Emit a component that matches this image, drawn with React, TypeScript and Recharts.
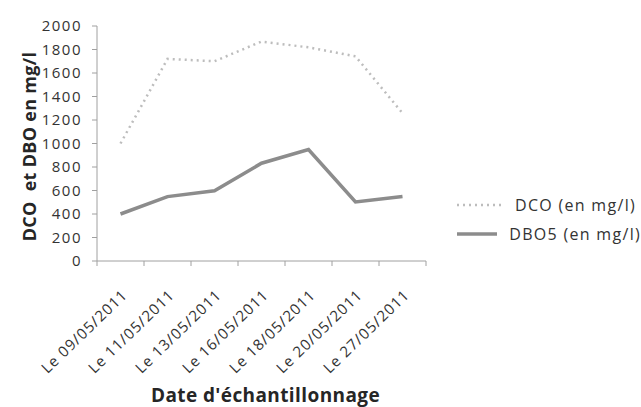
import { LineChart, Line, XAxis, YAxis, Legend } from 'recharts'

const dates = [
  'Le 09/05/2011',
  'Le 11/05/2011',
  'Le 13/05/2011',
  'Le 16/05/2011',
  'Le 18/05/2011',
  'Le 20/05/2011',
  'Le 27/05/2011',
]
const dco = [1000, 1720, 1700, 1868, 1818, 1742, 1258]
const dbo5 = [400, 548, 598, 832, 948, 502, 548]
const yTicks = [0, 200, 400, 600, 800, 1000, 1200, 1400, 1600, 1800, 2000]
const xBounds = dates.map((_, i) => i).concat(dates.length)

const font = '"Open Sans", sans-serif'
const textColor = '#333333'
const titleColor = '#262626'
const axisColor = '#a0a0a0'

const data = dates.map((date, i) => ({ x: i + 0.5, date, dco: dco[i], dbo5: dbo5[i] }))

const series = [
  { key: 'dco', name: 'DCO (en mg/l)', color: '#bdbdbd', width: 2.5, dash: '2 4' },
  { key: 'dbo5', name: 'DBO5 (en mg/l)', color: '#8c8c8c', width: 3.5, dash: undefined },
]

function DateTick(props: any) {
  const { x, y, width, payload } = props
  const i = Math.round(payload.value)
  if (i >= dates.length) return null
  const cx = x + width / dates.length / 2 + 8
  const cy = y + 28
  return (
    <text
      x={cx}
      y={cy}
      transform={`rotate(-44 ${cx} ${cy})`}
      textAnchor="end"
      fontFamily={font}
      fontSize={15}
      letterSpacing={1}
      fill={textColor}
    >
      {dates[i]}
    </text>
  )
}

function YTitle(props: any) {
  const { viewBox } = props
  const cx = viewBox.x + 19
  const cy = viewBox.y + viewBox.height / 2 + 3
  return (
    <text
      x={cx}
      y={cy}
      transform={`rotate(-90 ${cx} ${cy})`}
      textAnchor="middle"
      dominantBaseline="central"
      fontFamily={font}
      fontSize={18}
      fontWeight={700}
      letterSpacing={0.3}
      fill={titleColor}
      style={{ whiteSpace: 'pre' }}
    >
      {'DCO  et DBO en mg/l'}
    </text>
  )
}

function LegendBox() {
  return (
    <div style={{ fontFamily: font, fontSize: 16, letterSpacing: 1.3, color: textColor, whiteSpace: 'nowrap' }}>
      {series.map(s => (
        <div key={s.key} style={{ display: 'flex', alignItems: 'center', height: 29 }}>
          <svg width={46} height={6}>
            <line x1={0} y1={3} x2={46} y2={3} stroke={s.color} strokeWidth={s.width} strokeDasharray={s.dash} />
          </svg>
          <span style={{ marginLeft: 12 }}>{s.name}</span>
        </div>
      ))}
    </div>
  )
}

export default function App() {
  return (
    <div style={{ position: 'absolute', left: 0, top: 0, background: '#fff' }}>
      <LineChart width={641} height={407} data={data} margin={{ top: 26, right: 215, bottom: 0, left: 10 }}>
        <XAxis
          dataKey="x"
          type="number"
          domain={[0, dates.length]}
          ticks={xBounds}
          interval={0}
          height={146}
          tick={<DateTick />}
          tickSize={5}
          tickLine={{ stroke: axisColor }}
          axisLine={{ stroke: axisColor }}
          label={{
            value: "Date d'échantillonnage",
            position: 'insideBottom',
            offset: 5,
            dx: 4,
            style: { fontFamily: font, fontSize: 19, fontWeight: 700, letterSpacing: 0.4, fill: titleColor },
          }}
        />
        <YAxis
          domain={[0, 2000]}
          ticks={yTicks}
          interval={0}
          width={87}
          tickSize={5}
          tickMargin={10}
          tick={{ fontFamily: font, fontSize: 15, letterSpacing: 1.5, fill: textColor }}
          tickLine={{ stroke: axisColor }}
          axisLine={{ stroke: axisColor }}
          label={{ content: <YTitle /> }}
        />
        <Legend
          layout="horizontal"
          align="center"
          verticalAlign="middle"
          content={<LegendBox />}
          wrapperStyle={{ position: 'absolute', left: 457, top: 190, width: 184 }}
        />
        {series.map(s => (
          <Line
            key={s.key}
            dataKey={s.key}
            name={s.name}
            stroke={s.color}
            strokeWidth={s.width}
            strokeDasharray={s.dash}
            dot={false}
            activeDot={false}
            isAnimationActive={false}
          />
        ))}
      </LineChart>
    </div>
  )
}
